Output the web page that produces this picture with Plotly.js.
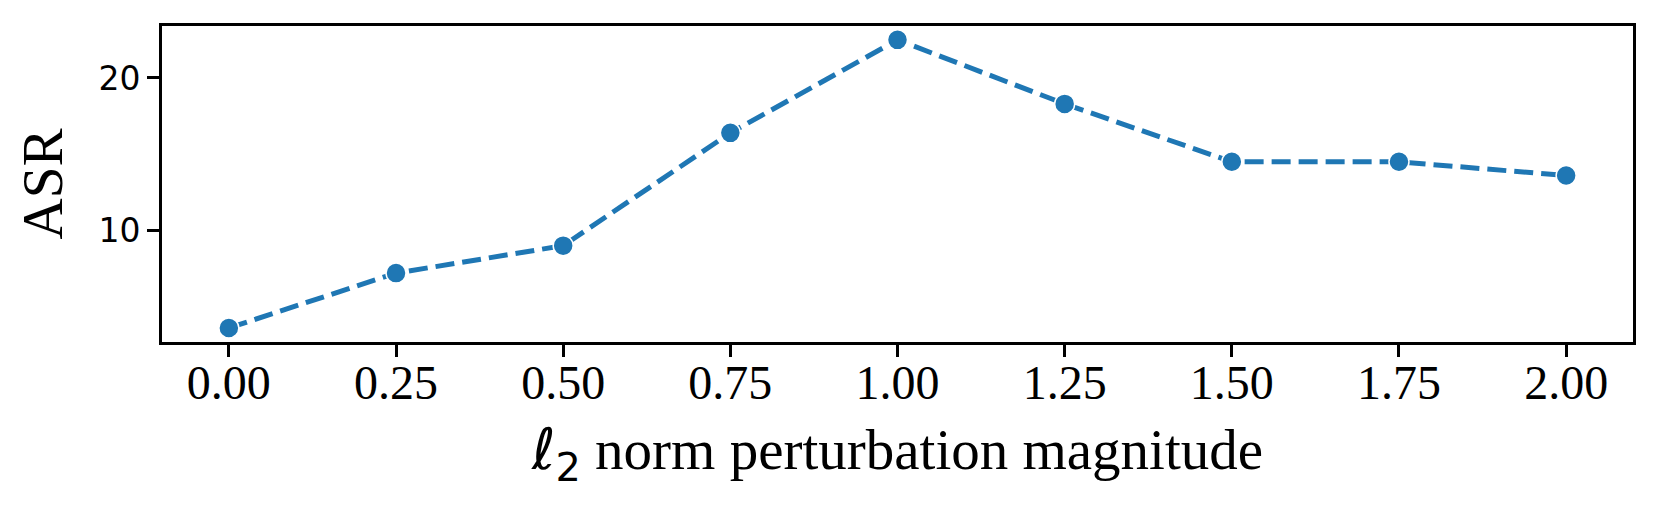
<!DOCTYPE html>
<html>
<head>
<meta charset="utf-8">
<script src="https://cdn.plot.ly/plotly-3.0.1.min.js"></script>
<style>html,body{margin:0;padding:0;background:#fff;}</style>
</head>
<body>
<div id="chart" style="width:1659px;height:509px;"></div>
<script>
const magnitudes = [0.00, 0.25, 0.50, 0.75, 1.00, 1.25, 1.50, 1.75, 2.00];
const asr = [3.6, 7.2, 9.0, 16.4, 22.5, 18.3, 14.5, 14.5, 13.6];
const xTickVals = [0.00, 0.25, 0.50, 0.75, 1.00, 1.25, 1.50, 1.75, 2.00];
const xTickText = ["0.00", "0.25", "0.50", "0.75", "1.00", "1.25", "1.50", "1.75", "2.00"];
const yTickVals = [10, 20];
const yTickText = ["10", "20"];

const trace = {
  x: magnitudes,
  y: asr,
  type: 'scatter',
  mode: 'lines+markers',
  line: {color: '#1f77b4', width: 5, dash: '19px,8px'},
  marker: {color: '#1f77b4', size: 20, line: {color: '#ffffff', width: 1.5}},
  hoverinfo: 'skip'
};

const layout = {
  width: 1659,
  height: 509,
  margin: {l: 162, r: 26, t: 26, b: 167},
  paper_bgcolor: '#ffffff',
  plot_bgcolor: '#ffffff',
  showlegend: false,
  xaxis: {
    range: [-0.1, 2.1],
    tickmode: 'array',
    tickvals: xTickVals,
    ticktext: xTickText,
    ticks: 'outside',
    ticklen: 12,
    tickwidth: 3,
    tickcolor: '#000',
    ticklabelstandoff: -16,
    showgrid: false,
    zeroline: false,
    showline: true,
    mirror: true,
    linecolor: '#000',
    linewidth: 3,
    tickfont: {family: '"Liberation Serif", "Times New Roman", serif', size: 48, color: '#000'},
    title: {
      text: '<span style="font-family:\'DejaVu Sans\'"><i>ℓ</i><sub>2</sub></span> norm perturbation magnitude',
      font: {family: '"Liberation Serif", "Times New Roman", serif', size: 57, color: '#000'},
      standoff: 22
    }
  },
  yaxis: {
    range: [2.68, 23.41],
    tickmode: 'array',
    tickvals: yTickVals,
    ticktext: yTickText,
    ticks: 'outside',
    ticklen: 12,
    tickwidth: 3,
    tickcolor: '#000',
    showgrid: false,
    zeroline: false,
    showline: true,
    mirror: true,
    linecolor: '#000',
    linewidth: 3,
    tickfont: {family: '"DejaVu Sans", sans-serif', size: 33, color: '#000'},
    title: {
      text: 'ASR',
      font: {family: '"Liberation Serif", "Times New Roman", serif', size: 57, color: '#000'},
      standoff: 18
    }
  }
};

Plotly.newPlot('chart', [trace], layout, {staticPlot: true, displayModeBar: false});
</script>
</body>
</html>
